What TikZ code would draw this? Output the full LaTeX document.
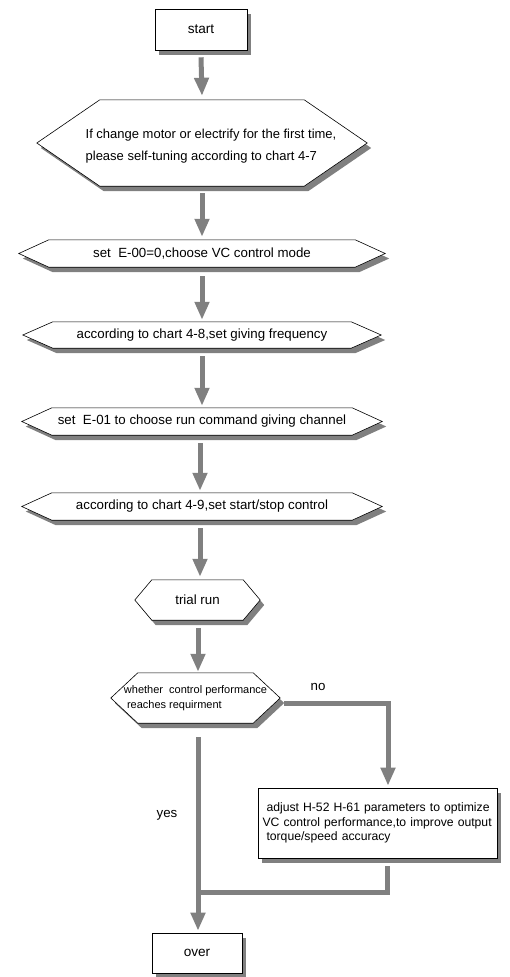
\documentclass[tikz,border=0pt]{standalone}
\usepackage{fontspec}
\setmainfont{Liberation Sans}
\usetikzlibrary{arrows.meta,calc,shadows}
\pgfdeclarelayer{back}
\pgfdeclarelayer{bg}
\pgfsetlayers{back,bg,main}
\definecolor{shc}{RGB}{128,128,128}
\tikzset{
  sh/.style={drop shadow={shadow xshift=4pt,shadow yshift=-5pt,opacity=1,fill=shc}},
  boxn/.style={draw=black,line width=0.6pt,fill=white,sh,inner sep=0pt,font=\fontsize{13.6}{16}\selectfont},
  hexn/.style={inner sep=0pt,font=\fontsize{13.3}{16}\selectfont,align=center},
  hexline/.style={draw=black,line width=0.6pt,fill=white,sh},
  flow/.style={draw=shc,line width=5pt,-{Triangle[width=14pt,length=18pt]}},
  plainline/.style={draw=shc,line width=5pt},
  lbl/.style={inner sep=0pt,font=\fontsize{13.3}{16}\selectfont},
}
\newcommand\hexdraw[2]{%
  \begin{pgfonlayer}{bg}
  \path[hexline] (#1.west) -- ($(#1.north west)+(#2,0)$) -- ($(#1.north east)+(-#2,0)$) -- (#1.east)
     -- ($(#1.south east)+(-#2,0)$) -- ($(#1.south west)+(#2,0)$) -- cycle;
  \end{pgfonlayer}}
\begin{document}
\begin{tikzpicture}[x=1pt,y=-1pt]
\begin{pgfonlayer}{back}
\fill[white] (0,0) rectangle (509,977);
\end{pgfonlayer}
\useasboundingbox (0,0) rectangle (509,977);

\node[boxn,minimum width=92pt,minimum height=41pt] (start) at (201,29.5) {start};

\node[hexn,minimum width=330pt,minimum height=86pt] (h1) at (202,143) {};
\hexdraw{h1}{63}
\node[lbl,align=left,font=\fontsize{13}{22}\selectfont] (t1) at (211,146)
  {If change motor or electrify for the first time,\\please self-tuning according to chart 4-7};

\node[hexn,minimum width=366pt,minimum height=27pt] (h2) at (202,253.5) {set\ \ E-00=0,choose VC control mode};
\hexdraw{h2}{30}

\node[hexn,minimum width=358pt,minimum height=26pt] (h3) at (202,335) {according to chart 4-8,set giving frequency};
\hexdraw{h3}{30}

\node[hexn,minimum width=360pt,minimum height=27pt] (h4) at (202,421.5) {set\ \ E-01 to choose run command giving channel};
\hexdraw{h4}{30}

\node[hexn,minimum width=360pt,minimum height=27pt] (h5) at (202,506.5) {according to chart 4-9,set start/stop control};
\hexdraw{h5}{30}

\node[hexn,minimum width=125pt,minimum height=40pt] (trial) at (197.5,600) {trial run};
\hexdraw{trial}{17}

\node[hexn,minimum width=169pt,minimum height=50pt,align=left,font=\fontsize{11}{15}\selectfont] (dec) at (195.5,698)
  {whether\ \ control performance\\\ reaches requirment};
\hexdraw{dec}{27}

\node[boxn,minimum width=239pt,minimum height=70pt,text width=230pt,inner xsep=4.5pt,align=left,font=\fontsize{12.2}{14.5}\selectfont] (adj) at (377.5,823)
  {\hspace*{4pt}adjust H-52 H-61 parameters to optimize\\VC control performance,to improve output\\\hspace*{4pt}torque/speed accuracy};

\node[boxn,minimum width=90pt,minimum height=40pt] (over) at (197,953) {over};

% connectors
\draw[flow] ($(start.south)+(0,7)$) -- ($(h1.north)+(0,-4)$);
\draw[flow] ($(h1.south)+(0,7)$) -- ($(h2.north)+(0,-3)$);
\draw[flow] ($(h2.south)+(0,9)$) -- ($(h3.north)+(0,-2)$);
\draw[flow] ($(h3.south)+(0,8)$) -- ($(h4.north)+(0,-2)$);
\draw[flow] ($(h4.south)+(-2,8)$) -- ($(h5.north)+(-2,-2)$);
\draw[flow] ($(h5.south)+(-2,8)$) -- ($(trial.north)+(2.5,-3)$);
\draw[flow] ($(trial.south)+(0.5,8)$) -- ($(dec.north)+(2.5,-1)$);

\coordinate (noc) at ($(dec.east)+(4,5)$);
\coordinate (nocorner) at (388,703);
\draw[flow] (noc) -- (nocorner) -- ($(adj.north)+(10.5,-2)$);
\node[lbl] (no) at (318,687) {no};

\coordinate (yesstart) at ($(dec.south)+(2.5,14)$);
\draw[flow] (yesstart) -- ($(over.north)+(1,-2)$);
\node[lbl] (yes) at (167,815) {yes};

\coordinate (back) at (198,892);
\draw[plainline] ($(adj.south)+(9.5,8)$) |- (back);
\end{tikzpicture}
\end{document}
